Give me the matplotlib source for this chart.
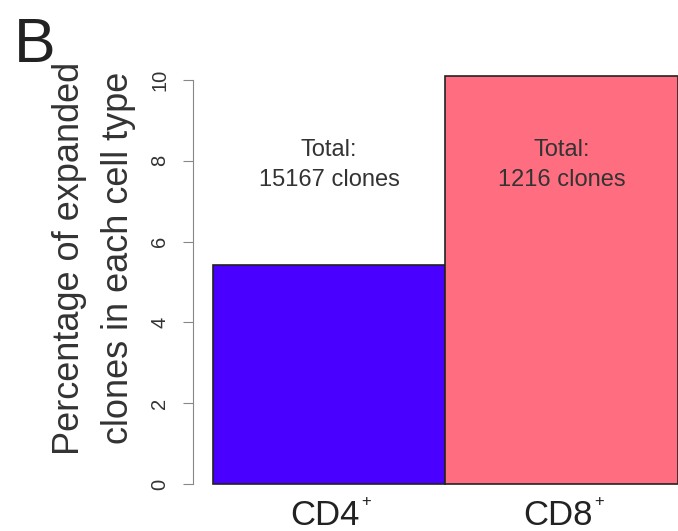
import matplotlib
matplotlib.use("Agg")
import matplotlib.pyplot as plt
import matplotlib.transforms as mtransforms

plt.rcParams['font.family'] = ['Liberation Sans', 'DejaVu Sans']

categories = ["CD4", "CD8"]
superscripts = ["+", "+"]
values = [5.42, 10.1]
totals = ["Total:\n15167 clones", "Total:\n1216 clones"]
colors = ["#4A00FF", "#FF6E80"]
yticks = [0, 2, 4, 6, 8, 10]

W, H = 678, 531
fig = plt.figure(figsize=(W/100, H/100), dpi=100)
ax = fig.add_axes([193/W, 1-500/H, (W-193)/W, (500-60)/H])

x = [0.5, 1.5]
ax.bar(x, values, width=1.0, color=colors, edgecolor="#222222", linewidth=1.2)
ax.set_xlim(-0.085, 2.0)
y0, y10 = 484, 80
ppu = (y0 - y10) / 10
ax.set_ylim(-(500-484)/ppu, 10 + (80-60)/ppu)

for s in ["top", "right", "bottom"]:
    ax.spines[s].set_visible(False)
ax.spines["left"].set_bounds(0, 10)
ax.spines["left"].set_color("#888888")
ax.set_yticks(yticks)
ax.set_yticklabels([str(t) for t in yticks], rotation=90, va="center", fontsize=14.5, color="#333333")
ax.tick_params(axis="y", length=7, color="#888888", pad=10)
ax.set_xticks([])

for xi, t in zip(x, totals):
    ax.text(xi, 7.9, t, ha="center", va="center", fontsize=17, color="#333333", linespacing=1.45)

off = mtransforms.ScaledTranslation(-4/100, -41/100, fig.dpi_scale_trans)
for xi, c, sup in zip(x, categories, superscripts):
    t = ax.text(xi, 0, c, ha="center", va="baseline", fontsize=25, color="#222222",
                transform=ax.transData + off, clip_on=False)
    ax.annotate(sup, xy=(1, 0.93), xycoords=t, xytext=(1, 0), textcoords="offset points",
                ha="left", va="center", fontsize=12, color="#222222", annotation_clip=False)

fig.text(70/W, 1-258/H, "Percentage of expanded", rotation=90, ha="center", va="center",
         fontsize=26, color="#333333")
fig.text(119/W, 1-258/H, "clones in each cell type", rotation=90, ha="center", va="center",
         fontsize=26, color="#333333")
fig.text(14/W, 1-62/H, "B", ha="left", va="baseline", fontsize=45, color="#222222")

fig.savefig("out.png", dpi=100)
